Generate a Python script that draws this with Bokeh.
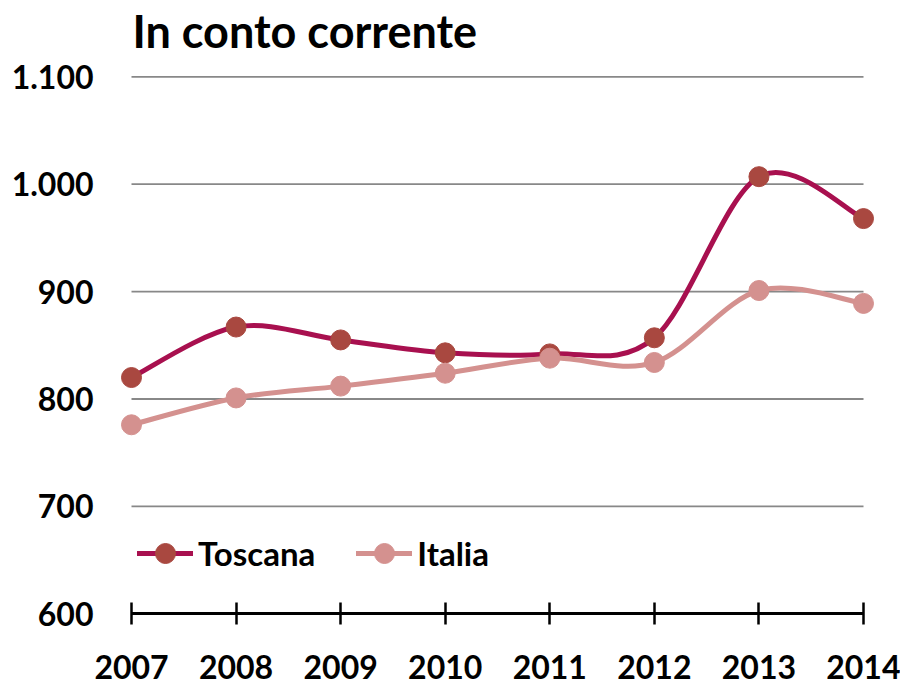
import numpy as np
from bokeh.plotting import figure
from bokeh.models import Range1d, FixedTicker, Legend, LegendItem, Label
from bokeh.embed import file_html
from bokeh.resources import INLINE

title_text = "In conto corrente"
years = [2007, 2008, 2009, 2010, 2011, 2012, 2013, 2014]
year_labels = ["2007", "2008", "2009", "2010", "2011", "2012", "2013", "2014"]
toscana = [820, 867, 855, 843, 842, 857, 1007, 968]
italia = [776, 801, 812, 824, 838, 834, 901, 889]
y_ticks = [600, 700, 800, 900, 1000, 1100]
y_labels = ["600", "700", "800", "900", "1.000", "1.100"]
series_names = ["Toscana", "Italia"]

TOS_LINE = "#A8104F"
TOS_MARK = "#A94840"
ITA_LINE = "#D4918F"
ITA_MARK = "#D4918F"
FONT = "Lato"

W, H = 900, 686
# pixel layout of the plotting area (frame covers whole canvas)
X_FIRST_PX, X_LAST_PX = 131, 863
Y_TOP_PX, Y_BOT_PX = 76.3, 613.3
ppx = (X_LAST_PX - X_FIRST_PX) / (years[-1] - years[0])
ppy = (Y_BOT_PX - Y_TOP_PX) / (y_ticks[-1] - y_ticks[0])
x_range = Range1d(years[0] - X_FIRST_PX / ppx, years[-1] + (W - X_LAST_PX) / ppx)
y_range = Range1d(y_ticks[-1] - (H - Y_TOP_PX) / ppy, y_ticks[-1] + Y_TOP_PX / ppy)

p = figure(width=W, height=H, output_backend="svg", toolbar_location=None,
           x_range=x_range, y_range=y_range,
           min_border_left=0, min_border_right=0, min_border_top=0, min_border_bottom=0)
p.outline_line_color = None
p.xgrid.visible = False
p.ygrid.visible = False

# gridlines spanning first to last year
gy = y_ticks[1:]
p.segment(x0=[years[0]] * len(gy), x1=[years[-1]] * len(gy), y0=gy, y1=gy,
          line_color="#888888", line_width=1.8)


def bezier_parts(xs, ys):
    x = np.array(xs, float)
    y = np.array(ys, float)
    n = len(x)
    xp = np.concatenate([[x[0]], x, [x[-1]]])
    yp = np.concatenate([[y[0]], y, [y[-1]]])
    cx0 = x[:-1] + (x[1:] - xp[0:n - 1]) / 6
    cy0 = y[:-1] + (y[1:] - yp[0:n - 1]) / 6
    cx1 = x[1:] - (xp[3:n + 2] - x[:-1]) / 6
    cy1 = y[1:] - (yp[3:n + 2] - y[:-1]) / 6
    return dict(x0=x[:-1], y0=y[:-1], x1=x[1:], y1=y[1:], cx0=cx0, cy0=cy0, cx1=cx1, cy1=cy1)


items = []
for vals, lc, mc, name in [(toscana, TOS_LINE, TOS_MARK, series_names[0]),
                           (italia, ITA_LINE, ITA_MARK, series_names[1])]:
    bz = p.bezier(**bezier_parts(years, vals), line_color=lc, line_width=5, line_cap="round")
    sc = p.scatter(years, vals, size=20, fill_color=mc, line_color=mc, line_width=1)
    items.append(LegendItem(label=name, renderers=[bz, sc]))

LEG_H = 50
legend = Legend(items=items, location=(137, H - (553 + LEG_H // 2)), orientation="horizontal",
                background_fill_alpha=0, border_line_alpha=0, padding=0, margin=0,
                spacing=41, label_standoff=5, glyph_width=56, glyph_height=LEG_H,
                label_height=LEG_H, label_text_font=FONT, label_text_font_style="bold",
                label_text_font_size="33px", label_text_color="black")
p.add_layout(legend)

# title
p.add_layout(Label(x=years[0], y=y_ticks[-1], x_offset=1, y_offset=46, text=title_text,
                   text_font=FONT, text_font_style="bold", text_font_size="45px",
                   text_color="black", text_baseline="alphabetic", text_align="left"))

# x axis fixed at the 600 level
p.xaxis.fixed_location = y_ticks[0]
p.xaxis.ticker = FixedTicker(ticks=years)
p.xaxis.major_label_overrides = {y: s for y, s in zip(years, year_labels)}
p.xaxis.bounds = (years[0], years[-1])
p.xaxis.axis_line_color = "black"
p.xaxis.axis_line_width = 3
p.xaxis.major_tick_line_color = "black"
p.xaxis.major_tick_line_width = 2.5
p.xaxis.major_tick_in = 11
p.xaxis.major_tick_out = 11
p.xaxis.minor_tick_line_color = None
p.xaxis.major_label_standoff = 30
p.xaxis.major_label_text_font = FONT
p.xaxis.major_label_text_font_style = "bold"
p.xaxis.major_label_text_font_size = "32px"
p.xaxis.major_label_text_color = "black"

# y axis fixed at the first year, labels only
p.yaxis.fixed_location = years[0]
p.yaxis.ticker = FixedTicker(ticks=y_ticks)
p.yaxis.major_label_overrides = {v: s for v, s in zip(y_ticks, y_labels)}
p.yaxis.axis_line_color = None
p.yaxis.major_tick_line_color = None
p.yaxis.minor_tick_line_color = None
p.yaxis.major_tick_in = 0
p.yaxis.major_tick_out = 0
p.yaxis.major_label_standoff = 38
p.yaxis.major_label_text_font = FONT
p.yaxis.major_label_text_font_style = "bold"
p.yaxis.major_label_text_font_size = "32px"
p.yaxis.major_label_text_color = "black"

open("out.html", "w").write(file_html(p, INLINE))
